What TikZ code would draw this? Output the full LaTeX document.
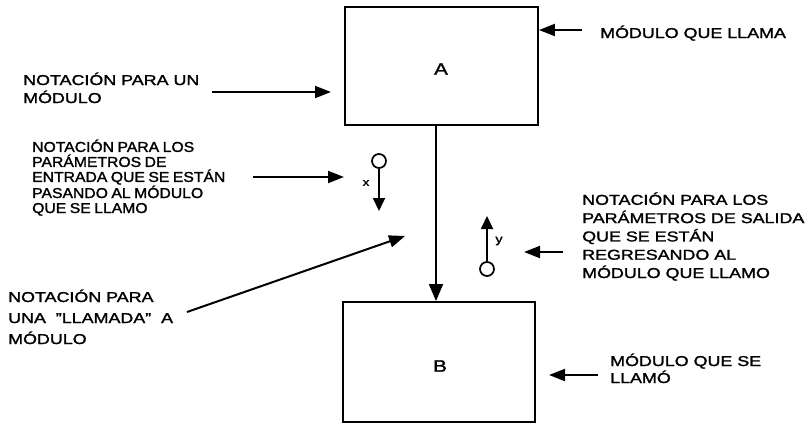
\documentclass[tikz,border=0pt]{standalone}
\usepackage{fontspec}
\setmainfont{Liberation Sans}[FakeStretch=1.25,FakeBold=1.6]
\newfontfamily\narrowsans{Liberation Sans}[FakeStretch=1.1,FakeBold=1.6,WordSpace=0.8]
\usetikzlibrary{arrows.meta}
\begin{document}
\begin{tikzpicture}[x=1pt,y=-1pt,
  lbl/.style={inner sep=0pt,anchor=base west,align=left,font=\fontsize{14.3}{18}\selectfont},
  box/.style={draw,line width=1.9pt,inner sep=0pt},
  ptr/.style={line width=2pt,-{Triangle[length=16pt,width=12pt]}},
  par/.style={line width=1.8pt,-{Triangle[length=13pt,width=12pt]}},
  callarr/.style={line width=1.8pt,-{Triangle[length=17pt,width=14pt]}},
  dot/.style={circle,draw,line width=1.7pt,minimum size=14pt,inner sep=0pt}]
\useasboundingbox (0,0) rectangle (812,424);
% boxes
\node[box,minimum width=193pt,minimum height=118pt] (A) at (441.5,66) {};
\node[font=\fontsize{16.5}{16}\selectfont] (Al) at (441,69) {A};
\node[box,minimum width=192pt,minimum height=120pt] (B) at (439,362) {};
\node[font=\fontsize{16.5}{16}\selectfont] (Bl) at (440,366) {B};
\draw[callarr] (A.south -| 436,0) -- (B.north -| 436,0);
% input parameter
\node[dot] (cin) at (379,161) {};
\coordinate (cinend) at (379,211);
\draw[par] (cin.south) -- (cinend);
\node[font=\fontsize{10.5}{10}\selectfont] (xl) at (366,183) {x};
% output parameter
\node[dot] (cout) at (487,269) {};
\coordinate (coutend) at (487,216);
\draw[par] (cout.north) -- (coutend);
\node[font=\fontsize{11.5}{11}\selectfont] (yl) at (499,241) {y};
% labels (anchor is baseline of the last line)
\node[lbl] (t1) at (600,38) {MÓDULO QUE LLAMA};
\node[lbl] (t2) at (23,103) {NOTACIÓN PARA UN\\MÓDULO};
\node[lbl,font=\narrowsans\fontsize{14.3}{15}\selectfont] (t3) at (32,213) {NOTACIÓN PARA LOS\\PARÁMETROS DE\\ENTRADA QUE SE ESTÁN\\PASANDO AL MÓDULO\\QUE SE LLAMO};
\node[lbl,font=\fontsize{14.3}{21}\selectfont] (t4) at (8,344) {NOTACIÓN PARA\\UNA \ "LLAMADA" \ A\\MÓDULO};
\node[lbl,font=\fontsize{14.3}{18.3}\selectfont] (t5) at (582,278) {NOTACIÓN PARA LOS\\PARÁMETROS DE SALIDA\\QUE SE ESTÁN\\REGRESANDO AL\\MÓDULO QUE LLAMO};
\node[lbl,font=\fontsize{14.3}{17}\selectfont] (t6) at (610,383) {MÓDULO QUE SE\\LLAMÓ};
% pointer arrows
\coordinate (p1) at (582,30);
\draw[ptr] (p1) -- (A.east |- p1);
\coordinate (p2a) at (212,92);
\coordinate (p2b) at (331,92);
\draw[ptr] (p2a) -- (p2b);
\coordinate (p3a) at (253,177);
\coordinate (p3b) at (344,177);
\draw[ptr] (p3a) -- (p3b);
\coordinate (p4a) at (187,312);
\coordinate (p4b) at (405,236);
\draw[ptr] (p4a) -- (p4b);
\coordinate (p5a) at (563,252);
\coordinate (p5b) at (524,252);
\draw[ptr] (p5a) -- (p5b);
\coordinate (p6a) at (598,375);
\coordinate (p6b) at (549,375);
\draw[ptr] (p6a) -- (p6b);
\end{tikzpicture}
\end{document}
